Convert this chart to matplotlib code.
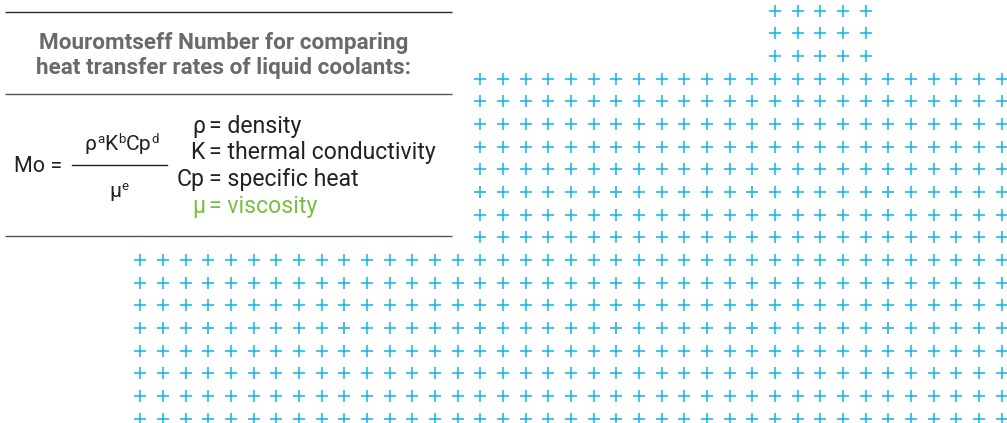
import numpy as np
import matplotlib
matplotlib.use("Agg")
import matplotlib.pyplot as plt

# ---- data ----
title_lines = ["Mouromtseff Number for comparing", "heat transfer rates of liquid coolants:"]
numerator = [("ρ", ""), ("a", "sup"), ("K", ""), ("b", "sup"), ("Cp", ""), ("d", "sup")]
denominator = [("μ", ""), ("e", "sup")]
def_symbols = ["ρ", "K", "Cp", "μ"]
def_texts = ["= density", "= thermal conductivity", "= specific heat", "= viscosity"]
def_colors = ["#222222", "#222222", "#222222", "#76c043"]
# cross grid blocks: (first row, last row+1), (first col, last col+1)
block_rows = [(0, 3), (3, 11), (11, 19)]
block_cols = [(28, 33), (15, 39), (0, 39)]

W, H = 1007, 423
fig = plt.figure(figsize=(W / 100, H / 100), dpi=100)
fig.patch.set_facecolor("white")

# grid axes (units = grid steps)
step = 22.67
x0, y0 = 140.2, 10.7
axg = fig.add_axes([0, 0, 1, 1])
axg.set_xlim(-x0 / step, (W - x0) / step)
axg.set_ylim((H - y0) / step, -y0 / step)
axg.axis("off")
for (r0, r1), (c0, c1) in zip(block_rows, block_cols):
    cc, rr = np.meshgrid(np.arange(c0, c1), np.arange(r0, r1))
    axg.plot(cc.ravel(), rr.ravel(), linestyle="none", marker="+",
             markersize=8.2, markeredgewidth=1.15, color="#17b6ea")

# text axes (pixel units)
ax = fig.add_axes([0, 0, 1, 1], zorder=2)
ax.set_xlim(0, W)
ax.set_ylim(H, 0)
ax.axis("off")
ax.patch.set_alpha(0)

FONT = "Roboto"
# rules
for yy, c in [(12, "#2a2a2a"), (94.5, "#555555"), (236, "#555555")]:
    ax.plot([5, 452], [yy, yy], color=c, lw=1.0, solid_capstyle="butt")

# title
for i, line in enumerate(title_lines):
    ax.text(224, 49 + i * 25, line, ha="center", va="baseline",
            fontsize=16.2, fontweight="bold", color="#6e6969", family=FONT)

# Mo =
ax.text(14, 172, "Mo =", ha="left", va="baseline", fontsize=15.5, color="#222222", family=FONT)
ax.plot([72, 167], [165, 165], color="#222222", lw=1.0)

fig.canvas.draw()
renderer = fig.canvas.get_renderer()

def place_pieces(pieces, cx, base, big, small, rise):
    arts = []
    x = 0
    for s, kind in pieces:
        fs = small if kind == "sup" else big
        yb = base - rise if kind == "sup" else base
        t = ax.text(x, yb, s, ha="left", va="baseline", fontsize=fs,
                    color="#222222", family=FONT)
        bb = t.get_window_extent(renderer)
        w = bb.width
        arts.append((t, x, w))
        x += w + 0.3
    total = x
    for t, xx, w in arts:
        t.set_x(cx - total / 2 + xx)

place_pieces(numerator, 122, 150, 15.2, 9.5, 7)
place_pieces(denominator, 119, 197, 15.2, 9.5, 7)

# definitions
bases = [133, 159, 186, 213]
for s, t, c, b in zip(def_symbols, def_texts, def_colors, bases):
    ax.text(205, b, s, ha="right", va="baseline", fontsize=16.6, color=c, family=FONT)
    ax.text(209, b, t, ha="left", va="baseline", fontsize=16.6, color=c, family=FONT)

fig.savefig("out.png", dpi=100, facecolor="white")
